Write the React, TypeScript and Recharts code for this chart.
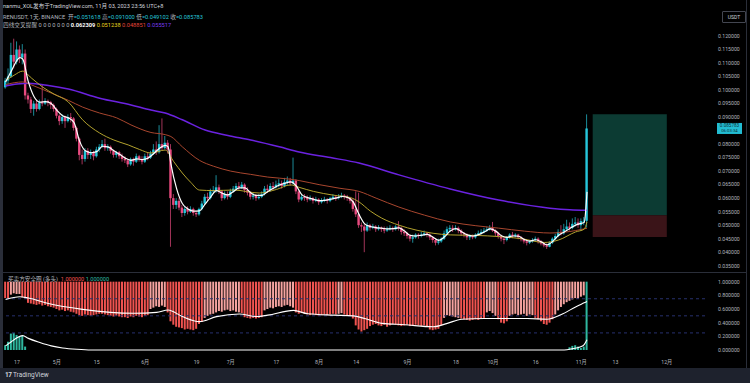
import React from "react"
import { ComposedChart, Bar, Line, XAxis, YAxis, ReferenceArea, ReferenceLine, Cell } from "recharts"

const FONT = 'Roboto, "Noto Sans CJK SC", sans-serif'
const UP = "#26c6da"
const DOWN = "#e84a7f"
const SELL_RED = "#ef5350"
const SELL_PINK = "#f5a3a0"
const BUY_TEAL = "#2fb8a0"

// daily candles, index 0 = Apr 13 2023, index 204 = Nov 03 2023
const FIRST_OPEN = 0.101
const closes = [
  0.1035, 0.1050, 0.1130, 0.1105, 0.1150, 0.1120, 0.1135, 0.0980, 0.0965, 0.0930,
  0.0950, 0.0930, 0.0955, 0.0950, 0.0960, 0.0955, 0.0945, 0.0930, 0.0905, 0.0885,
  0.0900, 0.0885, 0.0900, 0.0895, 0.0860, 0.0820, 0.0760, 0.0745, 0.0775, 0.0760,
  0.0770, 0.0755, 0.0780, 0.0790, 0.0800, 0.0785, 0.0790, 0.0775, 0.0760, 0.0770,
  0.0755, 0.0745, 0.0740, 0.0725, 0.0745, 0.0735, 0.0755, 0.0745, 0.0735, 0.0755,
  0.0750, 0.0765, 0.0780, 0.0770, 0.0800, 0.0785, 0.0805, 0.0780, 0.0600, 0.0575,
  0.0590, 0.0565, 0.0545, 0.0560, 0.0550, 0.0560, 0.0545, 0.0540, 0.0560, 0.0580,
  0.0605, 0.0600, 0.0625, 0.0630, 0.0640, 0.0625, 0.0600, 0.0615, 0.0605, 0.0625,
  0.0635, 0.0645, 0.0640, 0.0650, 0.0630, 0.0620, 0.0605, 0.0610, 0.0600, 0.0605,
  0.0615, 0.0635, 0.0630, 0.0645, 0.0640, 0.0650, 0.0655, 0.0645, 0.0660, 0.0665,
  0.0655, 0.0665, 0.0625, 0.0595, 0.0605, 0.0600, 0.0595, 0.0600, 0.0590, 0.0595,
  0.0585, 0.0590, 0.0595, 0.0590, 0.0600, 0.0605, 0.0600, 0.0605, 0.0610, 0.0605,
  0.0600, 0.0590, 0.0560, 0.0540, 0.0500, 0.0495, 0.0480, 0.0500, 0.0490, 0.0495,
  0.0485, 0.0490, 0.0485, 0.0480, 0.0485, 0.0490, 0.0485, 0.0495, 0.0490, 0.0475,
  0.0470, 0.0460, 0.0450, 0.0455, 0.0465, 0.0460, 0.0465, 0.0470, 0.0465, 0.0455,
  0.0445, 0.0435, 0.0440, 0.0450, 0.0470, 0.0485, 0.0490, 0.0485, 0.0490, 0.0480,
  0.0470, 0.0465, 0.0455, 0.0460, 0.0455, 0.0465, 0.0470, 0.0475, 0.0480, 0.0485,
  0.0490, 0.0480, 0.0470, 0.0460, 0.0450, 0.0445, 0.0455, 0.0465, 0.0460, 0.0465,
  0.0455, 0.0448, 0.0440, 0.0435, 0.0440, 0.0445, 0.0450, 0.0440, 0.0432, 0.0425,
  0.0420, 0.0435, 0.0450, 0.0460, 0.0475, 0.0470, 0.0485, 0.0495, 0.0490, 0.0505,
  0.0510, 0.0500, 0.0515, 0.051618, 0.085783,
]
const highs = [
  0.1045, 0.1080, 0.1175, 0.1190, 0.1180, 0.1165, 0.1170, 0.1150, 0.0990, 0.0975,
  0.0960, 0.0965, 0.0965, 0.1020, 0.0970, 0.0965, 0.0960, 0.0950, 0.0935, 0.0910,
  0.0910, 0.0905, 0.0910, 0.0915, 0.0900, 0.0865, 0.0825, 0.0780, 0.0785, 0.0785,
  0.0780, 0.0775, 0.0790, 0.0800, 0.0815, 0.0820, 0.0800, 0.0795, 0.0780, 0.0775,
  0.0775, 0.0765, 0.0755, 0.0745, 0.0750, 0.0750, 0.0765, 0.0760, 0.0755, 0.0765,
  0.0770, 0.0775, 0.0800, 0.0810, 0.0870, 0.0895, 0.0830, 0.0815, 0.0800, 0.0615,
  0.0600, 0.0600, 0.0575, 0.0570, 0.0570, 0.0570, 0.0565, 0.0555, 0.0565, 0.0590,
  0.0615, 0.0620, 0.0635, 0.0645, 0.0685, 0.0650, 0.0630, 0.0625, 0.0625, 0.0635,
  0.0645, 0.0655, 0.0660, 0.0660, 0.0655, 0.0640, 0.0625, 0.0620, 0.0615, 0.0615,
  0.0625, 0.0645, 0.0650, 0.0655, 0.0660, 0.0665, 0.0670, 0.0665, 0.0675, 0.0680,
  0.0675, 0.0750, 0.0670, 0.0630, 0.0615, 0.0615, 0.0610, 0.0610, 0.0605, 0.0605,
  0.0600, 0.0600, 0.0605, 0.0600, 0.0605, 0.0615, 0.0610, 0.0615, 0.0620, 0.0615,
  0.0612, 0.0605, 0.0600, 0.0625, 0.0620, 0.0510, 0.0505, 0.0510, 0.0505, 0.0505,
  0.0500, 0.0500, 0.0495, 0.0495, 0.0495, 0.0500, 0.0495, 0.0500, 0.0515, 0.0495,
  0.0485, 0.0475, 0.0465, 0.0465, 0.0470, 0.0470, 0.0475, 0.0480, 0.0475, 0.0470,
  0.0460, 0.0450, 0.0450, 0.0455, 0.0480, 0.0495, 0.0500, 0.0500, 0.0500, 0.0495,
  0.0485, 0.0475, 0.0470, 0.0465, 0.0465, 0.0470, 0.0480, 0.0485, 0.0490, 0.0495,
  0.0500, 0.0512, 0.0485, 0.0475, 0.0465, 0.0455, 0.0460, 0.0470, 0.0475, 0.0470,
  0.0468, 0.0460, 0.0452, 0.0448, 0.0445, 0.0452, 0.0458, 0.0455, 0.0445, 0.0438,
  0.0432, 0.0440, 0.0455, 0.0468, 0.0485, 0.0500, 0.0505, 0.0520, 0.0510, 0.0525,
  0.0530, 0.0525, 0.0525, 0.0530, 0.0910,
]
const lows = [
  0.1005, 0.1020, 0.1045, 0.1080, 0.1095, 0.1100, 0.1095, 0.0965, 0.0950, 0.0915,
  0.0905, 0.0920, 0.0925, 0.0940, 0.0945, 0.0940, 0.0930, 0.0920, 0.0895, 0.0870,
  0.0875, 0.0860, 0.0880, 0.0880, 0.0850, 0.0810, 0.0740, 0.0725, 0.0735, 0.0745,
  0.0745, 0.0740, 0.0750, 0.0770, 0.0785, 0.0775, 0.0775, 0.0765, 0.0750, 0.0750,
  0.0745, 0.0735, 0.0730, 0.0715, 0.0720, 0.0720, 0.0730, 0.0735, 0.0725, 0.0730,
  0.0740, 0.0745, 0.0760, 0.0760, 0.0765, 0.0775, 0.0780, 0.0765, 0.0420, 0.0560,
  0.0560, 0.0555, 0.0530, 0.0535, 0.0540, 0.0545, 0.0535, 0.0530, 0.0535, 0.0555,
  0.0575, 0.0590, 0.0595, 0.0615, 0.0620, 0.0615, 0.0590, 0.0595, 0.0595, 0.0600,
  0.0620, 0.0630, 0.0630, 0.0635, 0.0620, 0.0610, 0.0595, 0.0595, 0.0590, 0.0595,
  0.0600, 0.0610, 0.0620, 0.0625, 0.0630, 0.0635, 0.0640, 0.0635, 0.0640, 0.0650,
  0.0645, 0.0650, 0.0615, 0.0585, 0.0590, 0.0590, 0.0585, 0.0590, 0.0580, 0.0585,
  0.0575, 0.0580, 0.0585, 0.0580, 0.0585, 0.0595, 0.0590, 0.0595, 0.0600, 0.0595,
  0.0590, 0.0580, 0.0550, 0.0530, 0.0490, 0.0475, 0.0400, 0.0475, 0.0480, 0.0485,
  0.0475, 0.0480, 0.0475, 0.0470, 0.0475, 0.0480, 0.0475, 0.0480, 0.0480, 0.0465,
  0.0460, 0.0450, 0.0440, 0.0435, 0.0450, 0.0450, 0.0455, 0.0460, 0.0455, 0.0445,
  0.0435, 0.0425, 0.0428, 0.0435, 0.0445, 0.0465, 0.0475, 0.0475, 0.0480, 0.0470,
  0.0460, 0.0455, 0.0445, 0.0445, 0.0448, 0.0450, 0.0460, 0.0465, 0.0470, 0.0475,
  0.0480, 0.0475, 0.0460, 0.0450, 0.0440, 0.0430, 0.0440, 0.0450, 0.0452, 0.0455,
  0.0448, 0.0440, 0.0432, 0.0425, 0.0430, 0.0435, 0.0440, 0.0432, 0.0425, 0.0418,
  0.0412, 0.0418, 0.0430, 0.0445, 0.0455, 0.0462, 0.0465, 0.0480, 0.0480, 0.0485,
  0.0495, 0.0490, 0.0480, 0.0500, 0.049102,
]

// moving averages at sample days: [day index, value]
const emaFast: [number, number][] = [
  [0, 0.1030], [2, 0.1070], [4, 0.1110], [5, 0.1120], [6, 0.1115], [8, 0.1030], [10, 0.0975], [12, 0.0955],
  [14, 0.0957], [16, 0.0950], [18, 0.0925], [20, 0.0905], [22, 0.0897], [24, 0.0880], [26, 0.0810], [28, 0.0775],
  [30, 0.0768], [32, 0.0772], [34, 0.0792], [36, 0.0790], [38, 0.0775], [40, 0.0762], [42, 0.0748], [44, 0.0740],
  [46, 0.0745], [48, 0.0743], [50, 0.0748], [52, 0.0765], [54, 0.0785], [56, 0.0795], [57, 0.0790], [58, 0.0727],
  [60, 0.0635], [62, 0.0580], [64, 0.0560], [66, 0.0552], [68, 0.0553], [70, 0.0578], [72, 0.0605], [74, 0.0628],
  [76, 0.0618], [78, 0.0612], [80, 0.0625], [82, 0.0638], [84, 0.0638], [86, 0.0620], [88, 0.0610], [90, 0.0610],
  [92, 0.0625], [94, 0.0637], [96, 0.0648], [98, 0.0655], [100, 0.0660], [102, 0.0645], [104, 0.0612], [106, 0.0602],
  [108, 0.0596], [110, 0.0591], [112, 0.0592], [114, 0.0596], [116, 0.0600], [118, 0.0606], [120, 0.0603], [122, 0.0585],
  [124, 0.0540], [126, 0.0505], [128, 0.0495], [130, 0.0491], [132, 0.0489], [134, 0.0486], [136, 0.0487], [138, 0.0490],
  [140, 0.0478], [142, 0.0462], [144, 0.0460], [146, 0.0463], [148, 0.0466], [150, 0.0455], [152, 0.0444], [154, 0.0457],
  [156, 0.0478], [158, 0.0487], [160, 0.0476], [162, 0.0464], [164, 0.0460], [166, 0.0465], [168, 0.0475], [170, 0.0486],
  [172, 0.0478], [174, 0.0461], [176, 0.0455], [178, 0.0460], [180, 0.0459], [182, 0.0447], [184, 0.0441], [186, 0.0446],
  [188, 0.0438], [190, 0.0427], [192, 0.0440], [194, 0.0462], [196, 0.0475], [198, 0.0488], [200, 0.0500], [202, 0.0507],
  [203, 0.0510], [204, 0.062309],
]
const emaMid: [number, number][] = [
  [0, 0.1035], [3, 0.1055], [6, 0.1070], [9, 0.1045], [13, 0.1011], [17, 0.0985], [22, 0.0956], [27, 0.0890],
  [33, 0.0841], [38, 0.0815], [43, 0.0797], [47, 0.0780], [51, 0.0767], [56, 0.0778], [59, 0.0735], [62, 0.0693],
  [65, 0.0658], [68, 0.0630], [73, 0.0628], [80, 0.0630], [89, 0.0619], [95, 0.0632], [100, 0.0649], [103, 0.0640],
  [108, 0.0625], [115, 0.0611], [121, 0.0602], [124, 0.0586], [128, 0.0552], [132, 0.0526], [138, 0.0500], [144, 0.0482],
  [150, 0.0470], [156, 0.0464], [165, 0.0462], [173, 0.0458], [181, 0.0450], [189, 0.0436], [194, 0.0445], [200, 0.0475],
  [203, 0.0485], [204, 0.051238],
]
const emaSlow: [number, number][] = [
  [0, 0.1020], [3, 0.1027], [6, 0.1030], [10, 0.1015], [16, 0.0989], [22, 0.0962], [27, 0.0937], [33, 0.0915],
  [39, 0.0897], [44, 0.0871], [51, 0.0843], [56, 0.0835], [58, 0.0828], [62, 0.0790], [68, 0.0740], [73, 0.0718],
  [79, 0.0700], [86, 0.0688], [92, 0.0678], [100, 0.0670], [103, 0.0665], [110, 0.0650], [117, 0.0637], [124, 0.0625],
  [130, 0.0600], [138, 0.0567], [147, 0.0537], [156, 0.0512], [165, 0.0498], [173, 0.0489], [182, 0.0478], [191, 0.0471],
  [196, 0.0474], [200, 0.0480], [204, 0.048851],
]
const emaLong: [number, number][] = [
  [0, 0.1015], [4, 0.1022], [8, 0.1025], [15, 0.1017], [22, 0.1004], [33, 0.0970], [44, 0.0945], [51, 0.0926],
  [56, 0.0915], [62, 0.0890], [70, 0.0852], [78, 0.0832], [86, 0.0815], [96, 0.0790], [103, 0.0771], [114, 0.0750],
  [124, 0.0730], [138, 0.0686], [156, 0.0634], [173, 0.0593], [191, 0.0563], [198, 0.0557], [204, 0.0555],
]

// lower pane: level where the sell bar starts (runs up to 1.0)
const sellLevel = [
  0.76, 0.75, 0.81, 0.83, 0.82, 0.82, 0.77, 0.75, 0.69, 0.68,
  0.67, 0.66, 0.67, 0.65, 0.66, 0.64, 0.63, 0.62, 0.60, 0.58,
  0.59, 0.57, 0.58, 0.56, 0.55, 0.53, 0.51, 0.50, 0.52, 0.51,
  0.50, 0.51, 0.52, 0.53, 0.53, 0.52, 0.51, 0.50, 0.49, 0.50,
  0.49, 0.48, 0.48, 0.47, 0.49, 0.48, 0.50, 0.49, 0.48, 0.50,
  0.51, 0.60, 0.62, 0.64, 0.63, 0.65, 0.63, 0.55, 0.42, 0.37,
  0.34, 0.33, 0.32, 0.30, 0.31, 0.30, 0.29, 0.31, 0.38, 0.41,
  0.47, 0.50, 0.52, 0.53, 0.55, 0.57, 0.56, 0.58, 0.59, 0.57,
  0.58, 0.56, 0.55, 0.54, 0.48, 0.47, 0.46, 0.47, 0.46, 0.47,
  0.48, 0.58, 0.60, 0.62, 0.61, 0.63, 0.64, 0.63, 0.65, 0.66,
  0.64, 0.62, 0.55, 0.53, 0.54, 0.53, 0.52, 0.51, 0.52, 0.51,
  0.50, 0.51, 0.52, 0.51, 0.52, 0.53, 0.52, 0.53, 0.54, 0.52,
  0.51, 0.50, 0.46, 0.36, 0.30, 0.27, 0.29, 0.31, 0.35, 0.37,
  0.38, 0.36, 0.35, 0.37, 0.34, 0.36, 0.38, 0.37, 0.36, 0.35,
  0.36, 0.37, 0.35, 0.36, 0.37, 0.36, 0.35, 0.36, 0.34, 0.30,
  0.29, 0.30, 0.31, 0.36, 0.47, 0.51, 0.50, 0.49, 0.48, 0.47,
  0.46, 0.45, 0.44, 0.43, 0.44, 0.45, 0.44, 0.46, 0.47, 0.55,
  0.57, 0.54, 0.50, 0.45, 0.40, 0.39, 0.42, 0.50, 0.52, 0.53,
  0.51, 0.52, 0.53, 0.50, 0.52, 0.51, 0.47, 0.45, 0.42, 0.38,
  0.37, 0.40, 0.45, 0.52, 0.58, 0.63, 0.67, 0.70, 0.72, 0.74,
  0.76, 0.75, 0.78, 0.80,
]
const sellLine: [number, number][] = [
  [0, 0.74], [5, 0.78], [8, 0.76], [15, 0.68], [27, 0.595], [45, 0.537], [53, 0.55], [57, 0.585],
  [62, 0.49], [68, 0.415], [74, 0.488], [82, 0.527], [88, 0.49], [92, 0.51], [101, 0.58], [106, 0.53],
  [115, 0.51], [122, 0.50], [126, 0.46], [132, 0.39], [140, 0.37], [150, 0.34], [155, 0.39], [160, 0.45],
  [168, 0.46], [175, 0.46], [183, 0.46], [190, 0.45], [195, 0.52], [200, 0.63], [203, 0.69], [204, 0.71],
]
const buyBars: [number, number][] = [
  [0, 0.07], [1, 0.12], [2, 0.24], [3, 0.25], [4, 0.22], [5, 0.20], [6, 0.21], [7, 0.05],
  [198, 0.04], [199, 0.06], [200, 0.07], [201, 0.05], [202, 0.03], [203, 0.05], [204, 1.0],
]
const buyLine: [number, number][] = [
  [0, 0.06], [2, 0.12], [4, 0.18], [6, 0.21], [8, 0.17], [12, 0.11], [16, 0.06], [20, 0.03],
  [25, 0.01], [30, 0], [196, 0], [199, 0.02], [202, 0.05], [203, 0.08], [204, 0.15],
]

const timeTicks = [4, 18, 32, 49, 67, 79, 95, 110, 123, 141, 158, 171, 186, 202, 214, 232]
const timeLabels = ["17", "5月", "15", "6月", "19", "7月", "17", "8月", "14", "9月", "18", "10月", "16", "11月", "13", "12月"]
// 0.085 is hidden behind the last-price tag
const priceTicks = [0.035, 0.04, 0.045, 0.05, 0.055, 0.06, 0.065, 0.07, 0.075, 0.08, 0.09, 0.095, 0.1, 0.105, 0.11, 0.115, 0.12]
const oscTicks = [0, 0.2, 0.4, 0.6, 0.8, 1]

// long position tool
const POS_FROM = 206
const POS_TO = 232
const POS_STOP = 0.0456
const POS_ENTRY = 0.0537
const POS_TARGET = 0.091

const X_DOMAIN: [number, number] = [-0.91, 245.4]

const rows: any[] = closes.map((c, i) => ({
  i,
  o: i === 0 ? FIRST_OPEN : closes[i - 1],
  c,
  h: highs[i],
  l: lows[i],
  range: [lows[i], highs[i]],
  sell: i < sellLevel.length ? [sellLevel[i], 1] : null,
  buy: null,
}))
const put = (key: string, pairs: [number, number][]) => pairs.forEach(([i, v]) => (rows[i][key] = v))
put("fast", emaFast)
put("mid", emaMid)
put("slow", emaSlow)
put("long", emaLong)
put("sellLine", sellLine)
put("buyLine", buyLine)
put("buy", buyBars)

const lineAt = (pairs: [number, number][], i: number) => {
  for (let k = 1; k < pairs.length; k++) {
    const [i0, v0] = pairs[k - 1]
    const [i1, v1] = pairs[k]
    if (i <= i1) return v0 + ((v1 - v0) * (i - i0)) / (i1 - i0)
  }
  return pairs[pairs.length - 1][1]
}

const Candle = (props: any) => {
  const { x, y, width, height, payload } = props
  if (!payload) return null
  const { o, c, h, l } = payload
  const top = height < 0 ? y + height : y
  const hh = Math.abs(height)
  const k = h > l ? hh / (h - l) : 0
  const cx = x + width / 2
  const bTop = top + (h - Math.max(o, c)) * k
  const bBot = top + (h - Math.min(o, c)) * k
  const color = c >= o ? UP : DOWN
  return (
    <g>
      <line x1={cx} x2={cx} y1={top} y2={top + hh} stroke={color} strokeWidth={0.7} />
      <rect x={x - 0.2} y={bTop} width={width + 0.4} height={Math.max(bBot - bTop, 0.7)} fill={color} />
    </g>
  )
}

const PriceTag = ({ viewBox }: any) => {
  if (!viewBox) return null
  const left = viewBox.x + viewBox.width + 12
  return (
    <g fontFamily={FONT}>
      <rect x={left} y={viewBox.y - 5.5} width={25} height={11} fill="#22bcd2" />
      <text x={left + 12.5} y={viewBox.y - 1} fontSize={4.6} fill="#0d2f38" textAnchor="middle">0.085783</text>
      <text x={left + 12.5} y={viewBox.y + 4} fontSize={4.3} fill="#0d2f38" textAnchor="middle">06:03:34</text>
    </g>
  )
}

const axisTick = { fontSize: 5.2, fill: "#b2b5be", fontFamily: FONT }

export default function App() {
  const lastClose = closes[closes.length - 1]
  return (
    <div style={{ position: "relative", width: 750, height: 383, background: "#000", overflow: "hidden", fontFamily: FONT }}>
      <style>{"body{margin:0}"}</style>
      <div style={{ position: "absolute", left: 0, top: 0, width: 3, height: 368, background: "#2a2e39" }} />
      <div style={{ position: "absolute", left: 746, top: 0, width: 1, height: 368, background: "#2a2e39" }} />

      <div style={{ position: "absolute", left: 3, top: 2, fontSize: 5.6, color: "#d1d4dc", whiteSpace: "nowrap" }}>
        nanmu_XOL发布于TradingView.com, 11月 03, 2023 23:56 UTC+8
      </div>

      <div style={{ position: "absolute", left: 0, top: 12 }}>
        <ComposedChart width={750} height={260} data={rows} margin={{ top: 0, right: 0, bottom: 0, left: 3 }}>
          <XAxis dataKey="i" type="number" domain={X_DOMAIN} allowDataOverflow hide />
          <YAxis
            orientation="right"
            width={45}
            domain={[0.03267, 0.12888]}
            allowDataOverflow
            ticks={priceTicks}
            tickFormatter={(v: number) => v.toFixed(6)}
            tick={axisTick}
            tickSize={0}
            tickMargin={13}
            axisLine={false}
          />
          <ReferenceArea x1={POS_FROM} x2={POS_TO} y1={POS_ENTRY} y2={POS_TARGET} fill="#0c3b33" fillOpacity={1} stroke="none" />
          <ReferenceArea x1={POS_FROM} x2={POS_TO} y1={POS_STOP} y2={POS_ENTRY} fill="#3a1418" fillOpacity={1} stroke="none" />
          <ReferenceLine
            y={lastClose}
            stroke="none"
            label={(p: any) => <PriceTag viewBox={p.viewBox} />}
          />
          <Line dataKey="long" type="monotone" stroke="#6b22e0" strokeWidth={1.5} dot={false} connectNulls isAnimationActive={false} />
          <Line dataKey="slow" type="monotone" stroke="#a8462e" strokeWidth={1} dot={false} connectNulls isAnimationActive={false} />
          <Line dataKey="mid" type="monotone" stroke="#b3a22e" strokeWidth={1} dot={false} connectNulls isAnimationActive={false} />
          <Bar dataKey="range" barSize={2} shape={<Candle />} isAnimationActive={false} />
          <Line dataKey="fast" type="monotone" stroke="#ffffff" strokeWidth={1.2} dot={false} connectNulls isAnimationActive={false} />
        </ComposedChart>
      </div>

      <div style={{ position: "absolute", left: 3, top: 13, fontSize: 5.7, color: "#b2b5be", whiteSpace: "nowrap", lineHeight: "8px" }}>
        <div>
          RENUSDT, 1天, BINANCE&nbsp; 开<span style={{ color: UP }}>=0.051618</span> 高<span style={{ color: UP }}>=0.091000</span> 低
          <span style={{ color: UP }}>=0.049102</span> 收<span style={{ color: UP }}>=0.085783</span>
        </div>
        <div>
          四线交叉提醒 0 0 0 0 0 0 0 <span style={{ color: "#fff", fontWeight: 700 }}>0.062309</span>{" "}
          <span style={{ color: "#e8d21d" }}>0.051238</span> <span style={{ color: "#e0453a" }}>0.048851</span>{" "}
          <span style={{ color: "#7a3cf0" }}>0.055517</span>
        </div>
      </div>

      <div style={{ position: "absolute", left: 722, top: 11, width: 22, height: 10, border: "1px solid #434651", borderRadius: 1, fontSize: 5, color: "#d1d4dc", textAlign: "center", lineHeight: "10px" }}>
        USDT
      </div>

      <div style={{ position: "absolute", left: 0, top: 272, width: 746, height: 1, background: "#2a2e39" }} />

      <div style={{ position: "absolute", left: 0, top: 273 }}>
        <ComposedChart width={750} height={95} data={rows} margin={{ top: 0, right: 0, bottom: 0, left: 3 }}>
          <XAxis
            xAxisId="a"
            dataKey="i"
            type="number"
            domain={X_DOMAIN}
            allowDataOverflow
            ticks={timeTicks}
            tickFormatter={(v: number) => timeLabels[timeTicks.indexOf(v)] ?? ""}
            tick={axisTick}
            tickSize={0}
            tickMargin={4}
            height={12}
            axisLine={false}
            interval={0}
          />
          <XAxis xAxisId="b" dataKey="i" type="number" domain={X_DOMAIN} allowDataOverflow hide />
          <YAxis
            orientation="right"
            width={45}
            domain={[-0.088, 1.127]}
            allowDataOverflow
            ticks={oscTicks}
            tickFormatter={(v: number) => v.toFixed(6)}
            tick={axisTick}
            tickSize={0}
            tickMargin={13}
            axisLine={false}
          />
          <Bar xAxisId="a" dataKey="sell" barSize={2} isAnimationActive={false}>
            {rows.map((r, i) => (
              <Cell key={i} fill={i < sellLevel.length && sellLevel[i] > lineAt(sellLine, i) + 0.02 ? SELL_PINK : SELL_RED} />
            ))}
          </Bar>
          <Bar xAxisId="b" dataKey="buy" barSize={2} fill={BUY_TEAL} isAnimationActive={false} />
          <ReferenceLine xAxisId="a" y={0.75} stroke="#27306e" strokeDasharray="3 3" />
          <ReferenceLine xAxisId="a" y={0.5} stroke="#27306e" strokeDasharray="3 3" />
          <ReferenceLine xAxisId="a" y={0.25} stroke="#27306e" strokeDasharray="3 3" />
          <Line xAxisId="a" dataKey="sellLine" type="monotone" stroke="#ffffff" strokeWidth={1.1} dot={false} connectNulls isAnimationActive={false} />
          <Line xAxisId="a" dataKey="buyLine" type="monotone" stroke="#ffffff" strokeWidth={1.1} dot={false} connectNulls isAnimationActive={false} />
        </ComposedChart>
      </div>

      <div style={{ position: "absolute", left: 8, top: 275, fontSize: 5.6, color: "#b2b5be", whiteSpace: "nowrap" }}>
        买卖方安全圈 (多头)&nbsp; <span style={{ color: SELL_RED }}>1.000000</span> <span style={{ color: BUY_TEAL }}>1.000000</span>
      </div>

      <div style={{ position: "absolute", left: 0, top: 368, width: 750, height: 15, background: "#1e222d" }}>
        <div style={{ position: "absolute", left: 5, top: 3, fontSize: 6.5, color: "#d1d4dc", whiteSpace: "nowrap" }}>
          <b style={{ letterSpacing: -0.5 }}>17</b> TradingView
        </div>
      </div>
    </div>
  )
}
